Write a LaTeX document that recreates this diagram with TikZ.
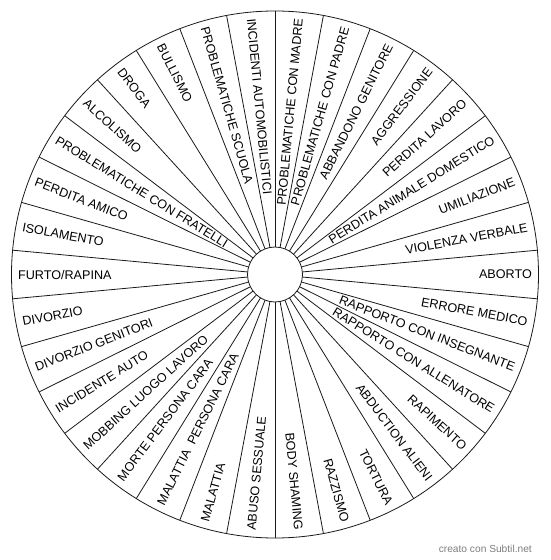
\documentclass[tikz,border=0pt]{standalone}
\usepackage{fontspec}
\setmainfont{Liberation Sans}
\usetikzlibrary{positioning}
\definecolor{Ink}{RGB}{25,25,25}
\definecolor{Mark}{RGB}{125,125,125}
\tikzset{
  wline/.style={Ink,line width=0.8pt},
  whub/.style={circle,draw=Ink,line width=0.8pt,fill=white,minimum size=55pt,inner sep=0pt},
  wlabel/.style={font=\fontsize{12.6}{14}\selectfont,inner sep=0pt,text=black},
  wmark/.style={font=\fontsize{10.2}{12}\selectfont,inner sep=0pt,text=Mark},
}
\begin{document}
\begin{tikzpicture}[x=1pt,y=1pt]
  \useasboundingbox (-275,-285.5) rectangle (275,274.5);
  % spokes and rim
  \foreach \i in {0,...,33}
    \draw[wline] ({180/34-\i*360/34}:27.5) -- ({180/34-\i*360/34}:263.5);
  \draw[wline] (0,0) circle (263.5);
  \node[whub] (hub) at (0,0) {};
  % sector labels, clockwise from the right
  \foreach \lbl [count=\i from 0] in {ABORTO, ERRORE MEDICO, RAPPORTO CON INSEGNANTE,
      RAPPORTO CON ALLENATORE, RAPIMENTO, ABDUCTION ALIENI, TORTURA, RAZZISMO,
      BODY SHAMING, ABUSO SESSUALE, MALATTIA, MALATTIA~ PERSONA CARA,
      MORTE PERSONA CARA, MOBBING LUOGO LAVORO, INCIDENTE AUTO, DIVORZIO GENITORI,
      DIVORZIO, {FURTO/RAPINA}, ISOLAMENTO, PERDITA AMICO, PROBLEMATICHE CON FRATELLI,
      ALCOLISMO, DROGA, BULLISMO, PROBLEMATICHE SCUOLA, INCIDENTI AUTOMOBILISTICI,
      PROBLEMATICHE CON MADRE, PROBLEMATICHE CON PADRE, ABBANDONO GENITORE,
      AGGRESSIONE, PERDITA LAVORO, PERDITA ANIMALE DOMESTICO, UMILIAZIONE,
      VIOLENZA VERBALE}{
    \pgfmathsetmacro\ang{-\i*360/34}
    \ifnum\i<9
      \node[wlabel,rotate=\ang,anchor=east] (w\i) at (\ang:257) {\lbl};
    \else\ifnum\i>25
      \node[wlabel,rotate=\ang,anchor=east] (w\i) at (\ang:257) {\lbl};
    \else
      \node[wlabel,rotate=\ang+180,anchor=west] (w\i) at (\ang:257) {\lbl};
    \fi\fi
  }
  \node[wmark,anchor=east] (credit) at (257,-274) {creato con Subtil.net};
\end{tikzpicture}
\end{document}
